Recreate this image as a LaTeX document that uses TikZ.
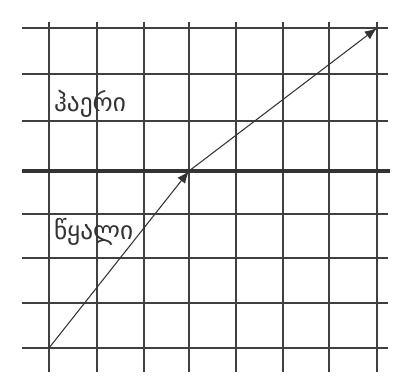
\documentclass[tikz,border=0pt]{standalone}
\usepackage{fontspec}
\newfontfamily\geofont{DejaVu Sans}
\usetikzlibrary{arrows.meta}
\tikzset{
  gridline/.style={line width=0.8pt, black!75},
  surface/.style={line width=2.2pt, black!80},
  ray/.style={line width=0.6pt, black!80, -{Latex[length=7pt,width=5.5pt]}},
  medium/.style={font=\geofont\Large, text=black!80, inner sep=1pt}
}
\begin{document}
\begin{tikzpicture}[x=0.02cm, y=-0.02cm]
  \useasboundingbox (0,0) rectangle (393,381);
  % vertical lines
  \foreach \x in {49,97,144,189,236,283,329,377}
    \draw[gridline] (\x,22) -- (\x,372);
  % horizontal lines
  \foreach \y in {28,74,121,214,258,303,348}
    \draw[gridline] (22,\y) -- (388,\y);
  % boundary water / air
  \draw[surface] (22,171) -- (390,171);
  % media
  \node[medium, anchor=south west] (air) at (52,120) {ჰაერი};
  \node[medium, anchor=north west] (water) at (52,216) {წყალი};
  % ray
  \coordinate (src) at (49,348);
  \coordinate (hit) at (189,171);
  \coordinate (out) at (377,28);
  \draw[ray] (src) -- (hit);
  \draw[ray] (hit) -- (out);
\end{tikzpicture}
\end{document}
